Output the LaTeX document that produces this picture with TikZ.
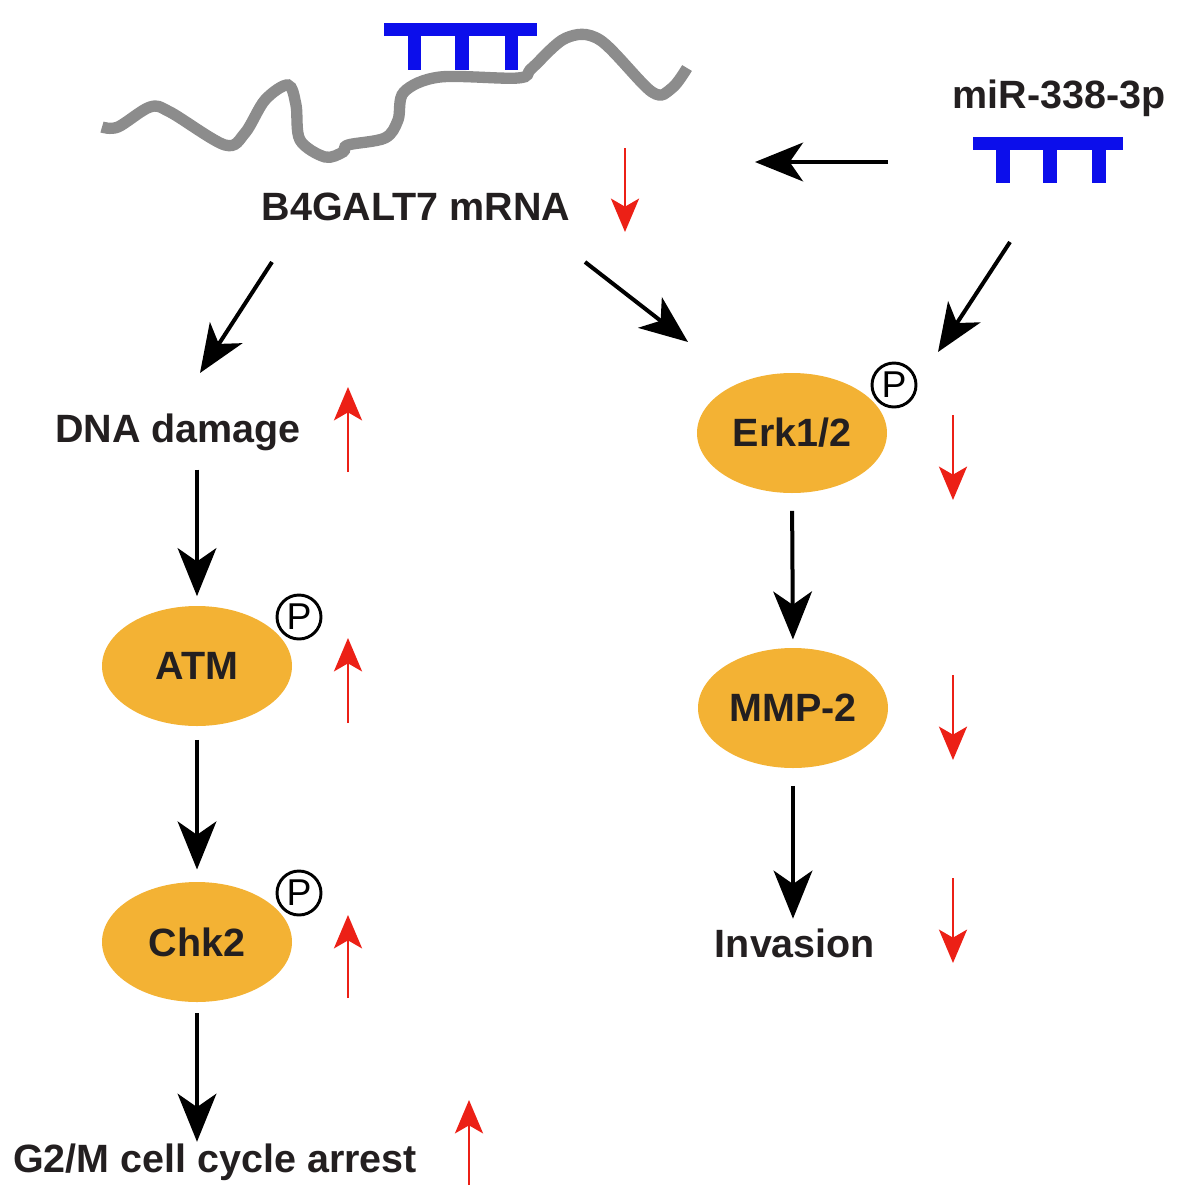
\documentclass[tikz,border=0pt]{standalone}
\usepackage{fontspec}
\setmainfont{Liberation Sans}
\usetikzlibrary{arrows.meta,shapes.geometric}

\definecolor{protorange}{RGB}{243,178,52}
\definecolor{mirblue}{RGB}{12,14,235}
\definecolor{rnagray}{RGB}{140,140,140}
\definecolor{chgred}{RGB}{236,32,22}
\definecolor{lbltext}{RGB}{35,31,32}

\tikzset{every picture/.style={line width=0.75pt}}
\tikzset{
	lbl/.style={text=lbltext, font=\fontsize{29.6}{32}\selectfont\bfseries, inner sep=0pt},
	prot/.style={lbl, ellipse, fill=protorange, minimum width=142.5pt, minimum height=90pt},
	phos/.style={circle, draw=black, line width=2.2pt, minimum size=33pt, inner sep=0pt, font=\fontsize{28}{28}\selectfont},
	blk/.style={-{Stealth[length=36pt,width=29pt,inset=10pt]}, line width=3pt},
	chg/.style={draw=chgred, -{Stealth[length=25pt,width=21pt,inset=6pt]}, line width=2.2pt},
	rna/.style={draw=rnagray, line width=8.5pt},
	duplex/.style={fill=mirblue}
}

\begin{document}
\begin{tikzpicture}[x=0.75pt,y=0.75pt,yscale=-1,xscale=1]
	\useasboundingbox (0,0) rectangle (1181,1200);

	% mRNA strand
	\draw [rna] plot [smooth, tension=0.55] coordinates {(102,127) (118,127) (150,107) (170,112) (225,145) (245,133) (265,100) (288,85) (296,105) (300,140) (325,157) (343,152) (348,145) (385,138) (398,120) (404,92) (440,77) (518,78) (532,68) (566,38) (600,40) (652,92) (672,88) (687,68)};
	% bound miRNA
	\fill [duplex] (384,23) rectangle (537,36);
	\fill [duplex] (408,36) rectangle (421,70);
	\fill [duplex] (455,36) rectangle (469,70);
	\fill [duplex] (505,36) rectangle (518,70);
	% free miRNA
	\fill [duplex] (973,137) rectangle (1123,150);
	\fill [duplex] (996,150) rectangle (1010,183);
	\fill [duplex] (1043,150) rectangle (1057,183);
	\fill [duplex] (1092,150) rectangle (1106,183);

	% Text Node
	\node [lbl] (mrna) at (416,207) {B4GALT7 mRNA};
	% Text Node
	\node [lbl] (mir) at (1059,98) {miR-338-3p};
	% Text Node
	\node [lbl] (dna) at (178,432) {DNA damage};
	% Text Node
	\node [lbl] (g2m) at (215,1162) {G2/M cell cycle arrest};
	% Text Node
	\node [lbl] (inv) at (795,943) {Invasion};

	% Ellipses
	\node [prot] (atm) at (197,666) {ATM};
	\node [prot] (chk) at (197,942) {Chk2};
	\node [prot] (erk) at (792,433) {Erk1/2};
	\node [prot] (mmp) at (793,708) {MMP-2};
	% Phospho marks
	\node [phos] (patm) at (299,617) {P};
	\node [phos] (pchk) at (299,893) {P};
	\node [phos] (perk) at (894,385) {P};

	% free ends
	\coordinate (mrnaL) at (272,262);
	\coordinate (dnaIn) at (200,373);
	\coordinate (mrnaR) at (585,262);
	\coordinate (erkInL) at (688,342);
	\coordinate (mirDn) at (1010,242);
	\coordinate (erkInR) at (938,352);
	\coordinate (mirL) at (888,162);
	\coordinate (mrnaIn) at (755,162);

	% Connection
	\draw [blk] (mirL) -- (mrnaIn);
	\draw [blk] (mrnaL) -- (dnaIn);
	\draw [blk] (mrnaR) -- (erkInL);
	\draw [blk] (mirDn) -- (erkInR);
	% Connection
	\draw [blk, shorten <=14pt, shorten >=7pt] (dna.south -| atm.north) -- (atm.north);
	\draw [blk, shorten <=10pt, shorten >=9pt] (atm.south) -- (chk.north);
	\draw [blk, shorten <=8pt, shorten >=1pt] (chk.south) -- (chk.south |- g2m.north);
	\draw [blk, shorten <=13pt, shorten >=6pt] (erk.south) -- (mmp.north);
	\draw [blk, shorten <=13pt, shorten >=7pt] (mmp.south) -- (mmp.south |- inv.north);

	% up / down changes
	\draw [chg] (625,148) -- (625,232);
	\draw [chg] (348,472) -- (348,387);
	\draw [chg] (348,723) -- (348,638);
	\draw [chg] (348,998) -- (348,915);
	\draw [chg] (469,1185) -- (469,1100);
	\draw [chg] (953,415) -- (953,500);
	\draw [chg] (953,675) -- (953,760);
	\draw [chg] (953,878) -- (953,963);

\end{tikzpicture}
\end{document}
